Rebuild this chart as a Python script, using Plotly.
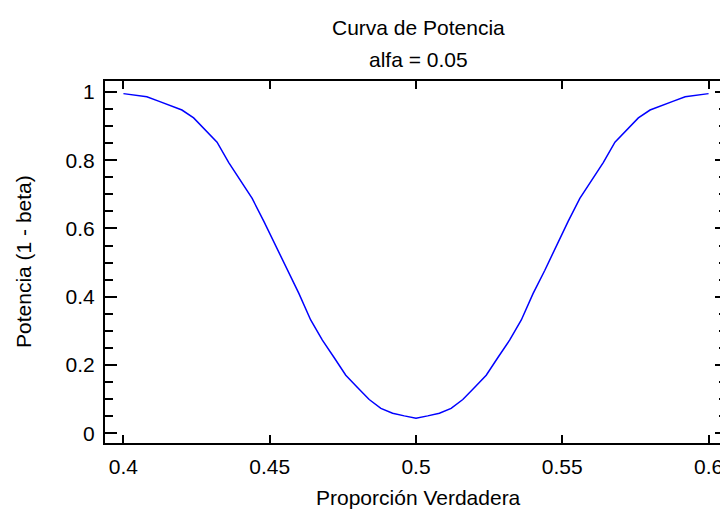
import plotly.graph_objects as go

# True proportion (x) and power (y)
proporcion = [0.400, 0.404, 0.408, 0.412, 0.416, 0.420, 0.424, 0.428, 0.432, 0.436,
              0.440, 0.444, 0.448, 0.452, 0.456, 0.460, 0.464, 0.468, 0.472, 0.476,
              0.480, 0.484, 0.488, 0.492, 0.496, 0.500, 0.504, 0.508, 0.512, 0.516,
              0.520, 0.524, 0.528, 0.532, 0.536, 0.540, 0.544, 0.548, 0.552, 0.556,
              0.560, 0.564, 0.568, 0.572, 0.576, 0.580, 0.584, 0.588, 0.592, 0.596,
              0.600]
potencia = [0.995, 0.990, 0.986, 0.973, 0.959, 0.947, 0.924, 0.888, 0.853, 0.793,
            0.741, 0.688, 0.621, 0.551, 0.477, 0.409, 0.332, 0.273, 0.222, 0.170,
            0.134, 0.099, 0.073, 0.059, 0.051, 0.044, 0.051, 0.059, 0.073, 0.099,
            0.134, 0.170, 0.222, 0.273, 0.332, 0.409, 0.477, 0.551, 0.621, 0.688,
            0.741, 0.793, 0.853, 0.888, 0.924, 0.947, 0.959, 0.973, 0.986, 0.990,
            0.995]

x_ticks = [0.4, 0.45, 0.5, 0.55, 0.6]
x_ticklabels = ["0.4", "0.45", "0.5", "0.55", "0.6"]
y_ticks = [0, 0.2, 0.4, 0.6, 0.8, 1]
y_ticklabels = ["0", "0.2", "0.4", "0.6", "0.8", "1"]

titulo = "Curva de Potencia"
subtitulo = "alfa = 0.05"
x_titulo = "Proporción Verdadera"
y_titulo = "Potencia (1 - beta)"

font = "Liberation Sans, Arial, sans-serif"
FS = 21

# The page body adds an 8px offset, so the figure is 8px smaller than the window
OFF = 8
W, H = 728 - OFF, 512 - OFF
ML, MR, MT, MB = 97, 1, 73, 69
PW, PH = W - ML - MR, H - MT - MB


def py(p):  # screen pixel row -> paper y
    return (H - MB - (p - OFF)) / PH


def px(p):  # screen pixel column -> paper x
    return ((p - OFF) - ML) / PW


fig = go.Figure()
fig.add_trace(go.Scatter(x=proporcion, y=potencia, mode="lines",
                         line=dict(color="#0000FF", width=1.5),
                         showlegend=False, hoverinfo="skip"))

fig.update_layout(
    width=W, height=H,
    margin=dict(l=ML, r=MR, t=MT, b=MB, autoexpand=False),
    paper_bgcolor="white", plot_bgcolor="white",
    font=dict(family=font, size=FS, color="black"),
    annotations=[
        dict(text=titulo, x=px(418), xref="paper", y=py(28), yref="paper",
             showarrow=False, xanchor="center", yanchor="middle"),
        dict(text=subtitulo, x=px(418), xref="paper", y=py(59), yref="paper",
             showarrow=False, xanchor="center", yanchor="middle"),
        dict(text=x_titulo, x=px(418), xref="paper", y=py(497), yref="paper",
             showarrow=False, xanchor="center", yanchor="middle"),
        dict(text=y_titulo, x=px(23), xref="paper", y=py(262), yref="paper",
             showarrow=False, xanchor="center", yanchor="middle", textangle=-90),
    ],
)

fig.update_xaxes(
    range=[0.3937, 0.6063], tickvals=x_ticks, ticktext=x_ticklabels,
    showline=True, linecolor="black", linewidth=2, mirror="ticks",
    ticks="inside", ticklen=8, tickwidth=2, tickcolor="black",
    showgrid=False, zeroline=False, ticklabelstandoff=4, automargin=False,
    tickfont=dict(size=FS),
)
fig.update_yaxes(
    range=[-0.0284, 1.032], tickvals=y_ticks, ticktext=y_ticklabels,
    showline=True, linecolor="black", linewidth=2, mirror="ticks",
    ticks="inside", ticklen=12, tickwidth=2, tickcolor="black",
    minor=dict(ticks="inside", ticklen=8, tickwidth=2, tickcolor="black", dtick=0.05, tick0=0),
    showgrid=False, zeroline=False, ticklabelstandoff=4, automargin=False,
    tickfont=dict(size=FS),
)

fig.write_html("out.html")
